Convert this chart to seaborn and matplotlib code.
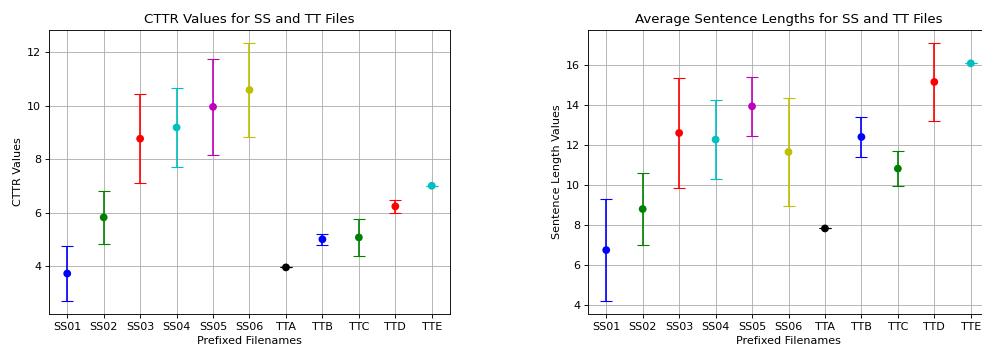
import numpy as np
import pandas as pd
import seaborn as sns
import matplotlib.pyplot as plt

# file labels and per-file stats
files = ['SS01', 'SS02', 'SS03', 'SS04', 'SS05', 'SS06', 'TTA', 'TTB', 'TTC', 'TTD', 'TTE']
colors = ['b', 'g', 'r', 'c', 'm', 'y', 'k', 'b', 'g', 'r', 'c']

cttr_mean = [3.72, 5.82, 8.76, 9.18, 9.95, 10.58, 3.95, 5.00, 5.07, 6.23, 7.00]
cttr_std = [1.03, 0.98, 1.66, 1.48, 1.79, 1.76, 0.0, 0.21, 0.68, 0.25, 0.0]

sent_mean = [6.75, 8.80, 12.60, 12.27, 13.93, 11.65, 7.83, 12.40, 10.82, 15.15, 16.08]
sent_std = [2.55, 1.78, 2.74, 1.98, 1.48, 2.70, 0.0, 1.01, 0.87, 1.95, 0.0]


def panel(ax, means, stds, title, ylabel):
    df = pd.DataFrame({'file': files, 'mean': means, 'std': stds})
    for i, row in df.iterrows():
        ax.errorbar(row['file'], row['mean'], yerr=row['std'], fmt='none',
                    ecolor=colors[i], capsize=5, elinewidth=1.5, zorder=2)
    sns.scatterplot(data=df, x='file', y='mean', hue='file', palette=colors,
                    s=49, linewidth=0, legend=False, ax=ax, zorder=3)
    ax.set_title(title, fontsize=12)
    ax.set_xlabel('Prefixed Filenames')
    ax.set_ylabel(ylabel)
    ax.grid(True)


DPI = 80
fig = plt.figure(figsize=(982 / DPI, 352 / DPI), dpi=DPI)
ax1 = fig.add_axes([49 / 982, 1 - 314 / 352, 401 / 982, 284 / 352])
ax2 = fig.add_axes([588 / 982, 1 - 314 / 352, 401 / 982, 284 / 352])

panel(ax1, cttr_mean, cttr_std, 'CTTR Values for SS and TT Files', 'CTTR Values')
panel(ax2, sent_mean, sent_std, 'Average Sentence Lengths for SS and TT Files', 'Sentence Length Values')

fig.savefig('out.png', dpi=DPI)
